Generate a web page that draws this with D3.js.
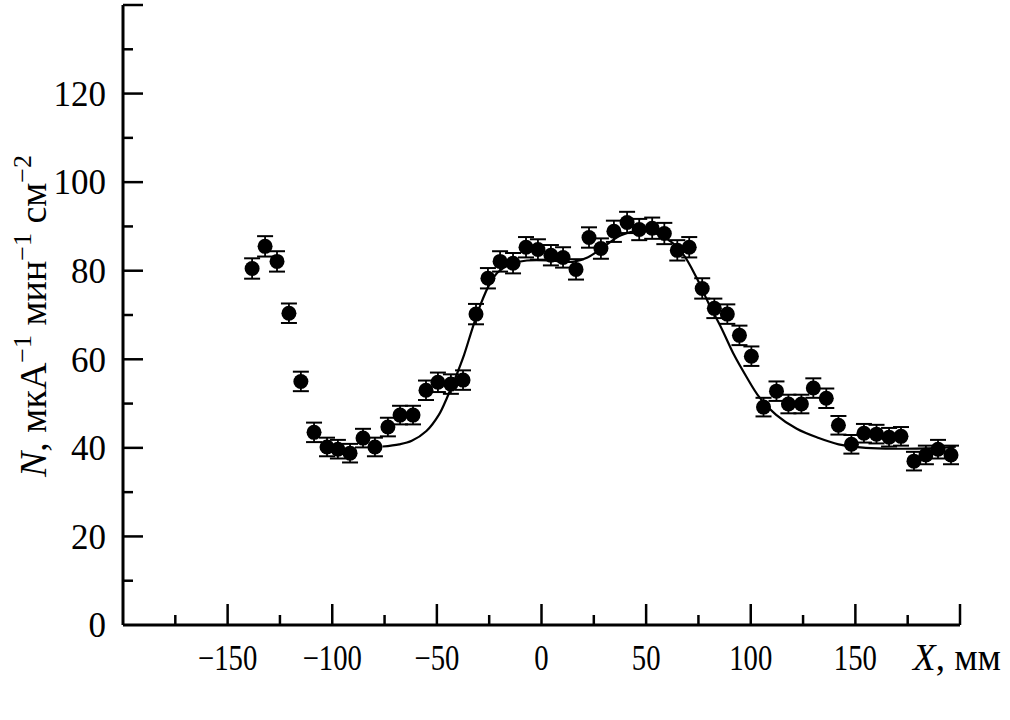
<!DOCTYPE html>
<html><head><meta charset="utf-8">
<script src="https://cdn.jsdelivr.net/npm/d3@7"></script>
<style>body{margin:0;background:#fff}svg{display:block}text{font-family:"Liberation Serif","Times New Roman",serif;fill:#000}</style>
</head><body>
<svg id="c" width="1010" height="720"></svg>
<script>
// measured points: X (mm), N
const xs = [-138.3,-132.1,-126.4,-120.7,-115,-108.7,-102.5,-97.3,-91.5,-85.3,-79.6,-73.4,-67.6,-61.4,-55.2,-49.5,-43.3,-37.5,-31.3,-25.6,-19.8,-13.6,-7.4,-1.7,4.5,10.3,16.5,22.7,28.4,34.6,40.9,46.7,52.9,58.7,64.9,70.6,76.8,82.6,88.8,94.6,100.3,106.1,112.3,118,124.2,129.9,136.1,141.9,148.1,154.1,160.1,166.1,171.8,178,183.7,189.5,195.7];
const ns = [80.5,85.5,82.1,70.4,55,43.5,40.2,39.7,38.8,42.2,40.2,44.7,47.4,47.4,53,54.8,54.4,55.3,70.2,78.3,82.1,81.7,85.3,84.8,83.5,83,80.3,87.5,85,88.9,90.9,89.3,89.6,88.4,84.6,85.3,76,71.5,70.2,65.4,60.7,49.2,52.8,49.9,49.9,53.5,51.2,45.1,40.8,43.3,43.1,42.4,42.6,37,38.4,39.7,38.4];
const errs = [2.3,2.3,2.3,2.2,2.2,2.2,2.1,2.1,2.1,2.1,2.1,2.1,2.1,2.1,2.2,2.2,2.2,2.2,2.3,2.3,2.3,2.3,2.3,2.3,2.3,2.3,2.3,2.3,2.3,2.4,2.4,2.4,2.4,2.4,2.3,2.3,2.3,2.2,2.2,2.2,2.2,2.1,2.2,2.1,2.1,2.2,2.2,2.1,2.1,2.1,2.1,2.1,2.1,2.1,2.1,2.1,2.1];
// fitted curve
const fitX = [-76,-68,-62,-55,-49,-45,-41,-37,-33,-29,-25,-21,-15,-7,5,15,22,30,38,46,54,62,68,74,80,86,92,98,104,112,122,132,142,155,170,185,198];
const fitY = [40.3,40.8,41.6,43.8,47.5,51.5,56,61,67,72.5,76.8,79.6,81.4,82.3,82.3,82,83,85.5,88,89,88.5,86.5,83.5,78.5,72.5,67,61,56,51.5,47.5,44.3,42.3,40.8,40,39.8,39.9,40.3];
const xMajor = [-150,-100,-50,0,50,100,150];
const xMinor = [-175,-125,-75,-25,25,75,125,175];
const yMajor = [0,20,40,60,80,100,120];
const yMinor = [10,30,50,70,90,110,130];

const svg = d3.select("#c");
const x = d3.scaleLinear().domain([-200,200]).range([123,960]);
const y = d3.scaleLinear().domain([0,140]).range([625,5]);

// axes
const ax = svg.append("g");
ax.append("line").attr("x1",x(-200)).attr("x2",x(200)).attr("y1",y(0)).attr("y2",y(0)).attr("stroke","#000").attr("stroke-width",3);
ax.append("line").attr("x1",x(-200)).attr("x2",x(-200)).attr("y1",y(0)).attr("y2",y(140)).attr("stroke","#000").attr("stroke-width",3);
[...xMajor,200].forEach(v=>ax.append("line").attr("x1",x(v)).attr("x2",x(v)).attr("y1",y(0)).attr("y2",y(0)-21).attr("stroke","#000").attr("stroke-width",2.5));
xMinor.forEach(v=>ax.append("line").attr("x1",x(v)).attr("x2",x(v)).attr("y1",y(0)).attr("y2",y(0)-10).attr("stroke","#000").attr("stroke-width",2.5));
[...yMajor.slice(1),140].forEach(v=>ax.append("line").attr("x1",x(-200)).attr("x2",x(-200)+20).attr("y1",y(v)).attr("y2",y(v)).attr("stroke","#000").attr("stroke-width",2.5));
yMinor.forEach(v=>ax.append("line").attr("x1",x(-200)).attr("x2",x(-200)+10).attr("y1",y(v)).attr("y2",y(v)).attr("stroke","#000").attr("stroke-width",2.5));

// tick labels
xMajor.forEach(v=>{
  svg.append("text").attr("transform",`translate(${x(v)},670) scale(0.82,1)`).attr("text-anchor","middle").attr("font-size",35)
    .text(v<0?"\u2212"+Math.abs(v):String(v));
});
yMajor.forEach(v=>{
  svg.append("text").attr("x",106).attr("y",y(v)).attr("dy","0.35em").attr("text-anchor","end").attr("font-size",35).text(v);
});

// axis titles
const xt = svg.append("text").attr("x",1001).attr("y",670).attr("text-anchor","end").attr("font-size",37);
xt.append("tspan").attr("font-style","italic").text("X");
xt.append("tspan").text(", мм");

const yt = svg.append("text").attr("transform","translate(46,316) rotate(-90)").attr("text-anchor","middle").attr("font-size",38);
yt.append("tspan").attr("font-style","italic").text("N");
yt.append("tspan").text(", мкА");
yt.append("tspan").attr("dy",-15).attr("font-size",26).text("\u22121");
yt.append("tspan").attr("dy",15).text(" мин");
yt.append("tspan").attr("dy",-15).attr("font-size",26).text("\u22121");
yt.append("tspan").attr("dy",15).text(" см");
yt.append("tspan").attr("dy",-15).attr("font-size",26).text("\u22122");

// fit curve
const fit = fitX.map((v,i)=>[v,fitY[i]]);
svg.append("path").datum(fit).attr("fill","none").attr("stroke","#000").attr("stroke-width",2.2)
  .attr("d",d3.line().x(d=>x(d[0])).y(d=>y(d[1])).curve(d3.curveCatmullRom));

// data with error bars
const pts = xs.map((v,i)=>({x:v,y:ns[i],e:errs[i]}));
const g = svg.append("g");
pts.forEach(p=>{
  const cx=x(p.x), y1=y(p.y+p.e), y2=y(p.y-p.e);
  g.append("line").attr("x1",cx).attr("x2",cx).attr("y1",y1).attr("y2",y2).attr("stroke","#000").attr("stroke-width",1.8);
  g.append("line").attr("x1",cx-8).attr("x2",cx+8).attr("y1",y1).attr("y2",y1).attr("stroke","#000").attr("stroke-width",2);
  g.append("line").attr("x1",cx-8).attr("x2",cx+8).attr("y1",y2).attr("y2",y2).attr("stroke","#000").attr("stroke-width",2);
  g.append("circle").attr("cx",cx).attr("cy",y(p.y)).attr("r",7.5).attr("fill","#000");
});
</script>
</body></html>
